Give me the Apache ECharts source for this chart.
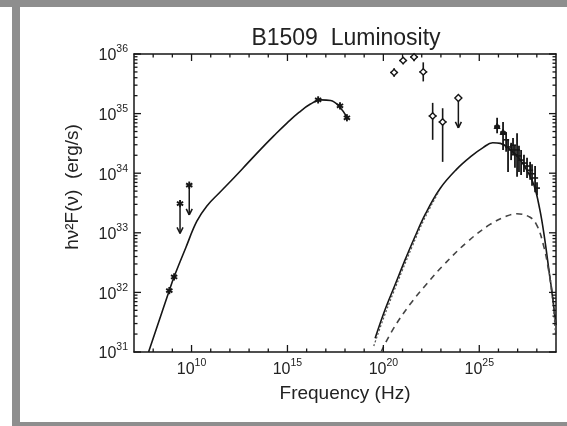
<!DOCTYPE html>
<html>
<head>
<meta charset="utf-8">
<title>B1509 Luminosity</title>
<script src="https://cdn.jsdelivr.net/npm/echarts@6.0.0/dist/echarts.min.js"></script>
<style>
  html, body { margin: 0; padding: 0; background: #ffffff; }
  .edge { position: absolute; background: #8e8e8e; }
  #chart { position: absolute; left: 0; top: 0; width: 567px; height: 426px; }
</style>
</head>
<body>
<div class="edge" style="left:0;top:0;width:567px;height:7px"></div>
<div class="edge" style="left:12px;top:7px;width:8px;height:419px"></div>
<div class="edge" style="left:12px;top:422px;width:555px;height:4px"></div>
<div id="chart"></div>
<script>
// Every position is a log10 value: frequency in Hz, luminosity (h nu^2 F) in erg/s.

// Axis extents and labelled decades
const xRange = [7, 29];
const yRange = [31, 36];
const xLabelDecades = [10, 15, 20, 25];
const yLabelDecades = [31, 32, 33, 34, 35, 36];

// Synchrotron model, radio through X-ray
const synLogNu = [7.76, 8.84, 9.10, 9.70, 10.27, 10.80, 11.48, 12.20, 12.90, 13.60, 14.30, 15.00, 15.60, 16.20, 16.75, 17.25, 17.70, 18.12];
const synLogL  = [31.00, 32.03, 32.27, 32.75, 33.19, 33.45, 33.68, 33.92, 34.16, 34.40, 34.63, 34.85, 35.02, 35.16, 35.23, 35.22, 35.12, 34.93];

// Inverse-Compton model, total (solid)
const icLogNu = [19.57, 20.10, 20.60, 21.10, 21.60, 22.20, 22.95, 23.80, 24.60, 25.20, 25.70, 26.10, 26.60, 27.10, 27.50, 27.85, 28.15, 28.40, 28.62, 28.85, 29.00];
const icLogL  = [31.23, 31.72, 32.12, 32.52, 32.90, 33.32, 33.74, 34.06, 34.29, 34.43, 34.51, 34.50, 34.40, 34.24, 34.04, 33.80, 33.40, 32.92, 32.40, 31.85, 31.45];

// Dotted companion of the total: rising branch and high-energy tail
const icDotRiseNu = [19.50, 20.00, 20.50, 21.00, 21.50, 22.10, 22.90];
const icDotRiseL  = [31.10, 31.56, 31.98, 32.38, 32.77, 33.21, 33.70];
const icDotTailNu = [28.62, 28.85, 28.95, 29.00];
const icDotTailL  = [32.40, 31.80, 31.40, 31.15];

// Inverse-Compton model, second component (dashed)
const dashLogNu = [19.88, 20.50, 21.39, 22.28, 23.11, 24.35, 25.56, 26.43, 26.95, 27.65, 28.01, 28.34, 28.60, 28.85, 29.00];
const dashLogL  = [31.00, 31.38, 31.80, 32.15, 32.45, 32.84, 33.14, 33.28, 33.32, 33.26, 33.12, 32.80, 32.40, 31.87, 31.30];

// Detections drawn as asterisks (radio and optical/X-ray)
const starLogNu = [8.84, 9.09, 16.60, 17.74, 18.10];
const starLogL  = [32.03, 32.26, 35.23, 35.13, 34.93];

// Upper limits (marker kind: 0 asterisk, 1 diamond)
const ulLogNu = [9.40, 9.88, 23.91];
const ulLogL  = [33.49, 33.80, 35.26];
const ulKind  = [0, 0, 1];
const ulDrop  = 0.5;

// MeV-GeV points with error ranges
const gamLogNu = [20.56, 21.03, 21.60, 22.08, 22.57, 23.09];
const gamLogL  = [35.69, 35.89, 35.95, 35.70, 34.96, 34.86];
const gamLo    = [35.62, 35.83, 35.88, 35.54, 34.56, 34.19];
const gamHi    = [35.76, 35.95, 36.00, 35.86, 35.18, 35.09];

// TeV points with error ranges
const tevLogNu = [25.93, 26.24, 26.40, 26.50, 26.66, 26.76, 26.86, 26.97, 27.07, 27.18, 27.33, 27.49, 27.65, 27.75, 27.91, 28.01];
const tevLogL  = [34.79, 34.69, 34.56, 34.44, 34.39, 34.47, 34.31, 34.39, 34.29, 34.22, 34.17, 34.12, 34.05, 33.99, 33.92, 33.75];
const tevLo    = [34.67, 34.39, 34.36, 34.02, 34.22, 34.31, 34.09, 33.94, 34.02, 33.97, 34.02, 33.92, 33.89, 33.79, 33.68, 33.63];
const tevHi    = [34.93, 34.86, 34.69, 34.56, 34.51, 34.59, 34.47, 34.67, 34.46, 34.39, 34.31, 34.26, 34.19, 34.15, 34.12, 33.85];
const tevTriangles = 2;

const ink = '#161616';
const font = '"Liberation Sans", Arial, Helvetica, sans-serif';
const minorLen = 3.5;
const majorLen = 7;

function zip(a, b) { return a.map((v, i) => [v, b[i]]); }
function range(a, b) { const r = []; for (let v = a; v <= b; v++) r.push(v); return r; }

// Tick positions: every decade on x, 2..9 sub-decades on y, longer marks on labelled decades
const tickSpecs = [];
range(xRange[0] + 1, xRange[1] - 1).forEach(v =>
  tickSpecs.push([v, 0, xLabelDecades.indexOf(v) >= 0 ? majorLen : minorLen]));
for (let n = yRange[0]; n <= yRange[1]; n++) {
  tickSpecs.push([n, 1, majorLen]);
  if (n < yRange[1]) for (let k = 2; k <= 9; k++) tickSpecs.push([n + Math.log10(k), 1, minorLen]);
}

const powerRich = {
  b: { fontSize: 16, fontFamily: font, color: '#222', lineHeight: 20, verticalAlign: 'bottom' },
  s: { fontSize: 10.5, fontFamily: font, color: '#222', lineHeight: 14, verticalAlign: 'top' }
};
const powerLabel = v => '{b|10}{s|' + Math.round(v) + '}';

function axisBase(pos, labelValues, extent) {
  return {
    type: 'value', position: pos, min: extent[0], max: extent[1], interval: 1,
    axisLine: { show: true, onZero: false, lineStyle: { color: ink, width: 1.5 } },
    axisTick: { show: false },
    axisLabel: labelValues
      ? { show: true, customValues: labelValues, formatter: powerLabel, rich: powerRich, margin: 6 }
      : { show: false },
    splitLine: { show: false }
  };
}

const xAxes = [
  Object.assign(axisBase('bottom', xLabelDecades, xRange), {
    name: 'Frequency (Hz)', nameLocation: 'middle', nameGap: 32,
    nameTextStyle: { fontSize: 19, fontFamily: font, color: '#222' }
  }),
  axisBase('top', null, xRange)
];
const yAxes = [
  Object.assign(axisBase('left', yLabelDecades, yRange), {
    name: 'h\u03bd\u00b2F(\u03bd)  (erg/s)', nameLocation: 'middle', nameGap: 52, nameRotate: 90,
    nameTextStyle: { fontSize: 19, fontFamily: font, color: '#222', padding: [0, 0, 0, 32] }
  }),
  axisBase('right', null, yRange)
];

function lineSeries(nu, l, type, width, color) {
  return {
    type: 'line', data: zip(nu, l), showSymbol: false, smooth: 0.4,
    lineStyle: { color: color, width: width, type: type }, silent: true, z: 3
  };
}

function seg(x1, y1, x2, y2, w) {
  return { type: 'line', shape: { x1, y1, x2, y2 }, style: { stroke: ink, lineWidth: w || 1.5 } };
}
function asterisk(cx, cy, r) {
  const out = [];
  for (let k = 0; k < 3; k++) {
    const a = Math.PI / 2 + k * Math.PI / 3;
    out.push(seg(cx - r * Math.cos(a), cy - r * Math.sin(a), cx + r * Math.cos(a), cy + r * Math.sin(a), 1.9));
  }
  return out;
}
function diamond(cx, cy, r) {
  return { type: 'polygon', shape: { points: [[cx, cy - r], [cx + r, cy], [cx, cy + r], [cx - r, cy]] },
           style: { fill: '#fff', stroke: ink, lineWidth: 1.4 } };
}
function triangle(cx, cy, r) {
  return { type: 'polygon', shape: { points: [[cx, cy - r], [cx + r, cy + r * 0.8], [cx - r, cy + r * 0.8]] },
           style: { fill: ink, stroke: ink, lineWidth: 1 } };
}

const series = [
  // axis tick marks on all four sides of the frame
  {
    type: 'custom', data: tickSpecs, encode: { x: 0 }, z: 6, silent: true, clip: false,
    renderItem: (p, api) => {
      const v = api.value(0), len = api.value(2);
      if (api.value(1) === 0) {
        const a = api.coord([v, yRange[0]]), b = api.coord([v, yRange[1]]);
        return { type: 'group', children: [seg(a[0], a[1], a[0], a[1] - len, 1.3), seg(b[0], b[1], b[0], b[1] + len, 1.3)] };
      }
      const a = api.coord([xRange[0], v]), b = api.coord([xRange[1], v]);
      return { type: 'group', children: [seg(a[0], a[1], a[0] + len, a[1], 1.3), seg(b[0], b[1], b[0] - len, b[1], 1.3)] };
    }
  },
  lineSeries(synLogNu, synLogL, 'solid', 1.6, ink),
  lineSeries(icLogNu, icLogL, 'solid', 1.6, ink),
  lineSeries(icDotRiseNu, icDotRiseL, [2, 2], 1.3, '#555'),
  lineSeries(icDotTailNu, icDotTailL, [2, 2], 1.3, '#555'),
  lineSeries(dashLogNu, dashLogL, [6, 5], 1.6, '#444'),
  {
    type: 'custom', data: zip(starLogNu, starLogL), encode: { x: 0, y: 1 }, z: 5,
    renderItem: (p, api) => {
      const c = api.coord([api.value(0), api.value(1)]);
      return { type: 'group', children: asterisk(c[0], c[1], 3.6) };
    }
  },
  {
    type: 'custom', data: ulLogNu.map((v, i) => [v, ulLogL[i], ulKind[i]]), encode: { x: 0, y: 1 }, z: 5,
    renderItem: (p, api) => {
      const c = api.coord([api.value(0), api.value(1)]);
      const t = api.coord([api.value(0), api.value(1) - ulDrop]);
      const kids = [
        seg(c[0], c[1], t[0], t[1], 1.5),
        seg(t[0] - 3, t[1] - 6, t[0], t[1], 1.5),
        seg(t[0] + 3, t[1] - 6, t[0], t[1], 1.5)
      ];
      if (api.value(2) === 1) kids.push(diamond(c[0], c[1], 3.5));
      else kids.push.apply(kids, asterisk(c[0], c[1], 3.6));
      return { type: 'group', children: kids };
    }
  },
  {
    type: 'custom', data: gamLogNu.map((v, i) => [v, gamLogL[i], gamLo[i], gamHi[i]]),
    encode: { x: 0, y: 1 }, z: 5,
    renderItem: (p, api) => {
      const c = api.coord([api.value(0), api.value(1)]);
      const lo = api.coord([api.value(0), api.value(2)]);
      const hi = api.coord([api.value(0), api.value(3)]);
      return { type: 'group', children: [
        seg(c[0], lo[1], c[0], hi[1], 1.6),
        seg(c[0] - 4, c[1], c[0] + 4, c[1], 1.4),
        diamond(c[0], c[1], 3.2)
      ] };
    }
  },
  {
    type: 'custom', data: tevLogNu.map((v, i) => [v, tevLogL[i], tevLo[i], tevHi[i], i]),
    encode: { x: 0, y: 1 }, z: 5,
    renderItem: (p, api) => {
      const c = api.coord([api.value(0), api.value(1)]);
      const lo = api.coord([api.value(0), api.value(2)]);
      const hi = api.coord([api.value(0), api.value(3)]);
      const kids = [seg(c[0], lo[1], c[0], hi[1], 1.8), seg(c[0] - 3, c[1], c[0] + 3, c[1], 1.6)];
      if (api.value(4) < tevTriangles) kids.push(triangle(c[0], c[1], 3));
      return { type: 'group', children: kids };
    }
  }
];

const chart = echarts.init(document.getElementById('chart'), null, { renderer: 'canvas' });
chart.setOption({
  backgroundColor: 'transparent',
  animation: false,
  title: {
    text: 'B1509  Luminosity', left: 341, top: 22, textAlign: 'center',
    textStyle: { fontSize: 23, fontWeight: 'normal', fontFamily: font, color: '#222' }
  },
  grid: { left: 134, top: 54, width: 422, height: 298, containLabel: false, outerBoundsMode: 'none' },
  xAxis: xAxes,
  yAxis: yAxes,
  series: series
});
</script>
</body>
</html>
